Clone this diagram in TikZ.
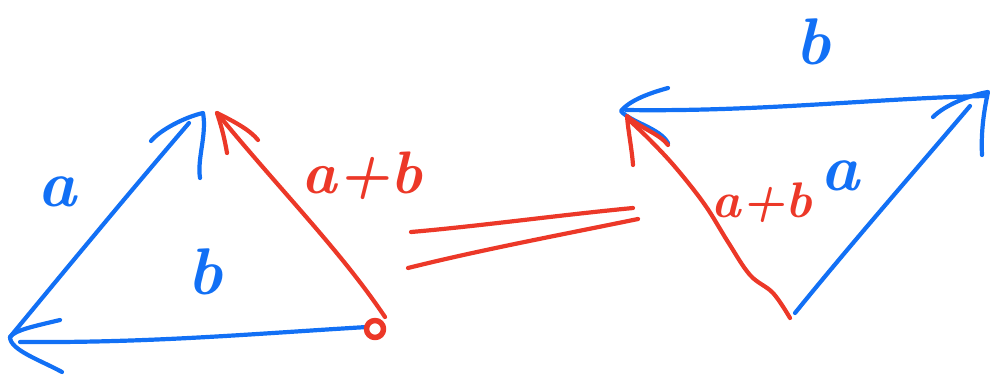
\documentclass[tikz,border=0pt]{standalone}
\usetikzlibrary{calc}
\definecolor{penblue}{RGB}{18,112,245}
\definecolor{penred}{RGB}{236,56,40}
\tikzset{
  bluepen/.style={draw=penblue,line width=4.2pt,line cap=round,line join=round},
  redpen/.style={draw=penred,line width=4.2pt,line cap=round,line join=round},
  bluelabel/.style={text=penblue,font=\fontsize{66}{66}\selectfont\bfseries\itshape,inner sep=0pt},
  redlabel/.style={text=penred,font=\fontsize{60}{60}\selectfont\bfseries\itshape,inner sep=0pt},
}
\begin{document}
\begin{tikzpicture}[x=1pt,y=-1pt]
\useasboundingbox (0,0) rectangle (990,375);
% ---------- left triangle ----------
\coordinate (LA) at (10,337);
\coordinate (LTa) at (203,113);
\coordinate (LTr) at (217,113);
\coordinate (LR) at (380,322);
% a
\draw[bluepen] (LA) .. controls (80,252) and (140,180) .. (189,123);
\draw[bluepen] (151,141) .. controls (160,130) and (185,117) .. (LTa) .. controls (207,135) and (197,158) .. (200,178);
% b
\draw[bluepen] (367,327) .. controls (250,334) and (150,343) .. (20,342);
\draw[bluepen] (60,320) .. controls (35,326) and (15,330) .. (LA) .. controls (10,350) and (40,360) .. (62,372);
% a+b
\draw[redpen] (385,317) .. controls (340,250) and (280,190) .. (LTr);
\draw[redpen] (227,153) .. controls (224,135) and (220,122) .. (LTr) .. controls (235,122) and (250,130) .. (258,140);
\draw[redpen,line width=5.5pt] (375,329) circle (8.5);
% labels
\node[bluelabel] (la) at (57,192) {a};
\node[bluelabel] (lb) at (205,272) {b};
\node[redlabel] (lab) at (362,176) {a+b};
% ---------- equals ----------
\coordinate (E1a) at (411,232);
\coordinate (E1b) at (633,208);
\coordinate (E2a) at (408,268);
\coordinate (E2b) at (638,219);
\draw[redpen] (E1a) .. controls (480,226) and (560,215) .. (E1b);
\draw[redpen] (E2a) .. controls (480,250) and (560,235) .. (E2b);
% ---------- right triangle ----------
\coordinate (RL) at (621,111);
\coordinate (RT) at (988,92);
\coordinate (RB) at (795,313);
% b (top)
\draw[bluepen] (986,96) .. controls (880,98) and (760,112) .. (626,110);
\draw[bluepen] (668,88) .. controls (650,93) and (630,100) .. (RL) .. controls (630,122) and (660,128) .. (668,143);
% a (right)
\draw[bluepen] (RB) .. controls (850,245) and (920,165) .. (970,106);
\draw[bluepen] (933,117) .. controls (945,105) and (970,95) .. (RT) .. controls (983,115) and (981,135) .. (982,155);
% a+b (red, wavy)
\draw[redpen] plot[smooth,tension=0.6] coordinates {(790,318) (773,293) (750,275) (728,242) (705,205) (676,168) (650,140) (628,119)};
\draw[redpen] (633,165) .. controls (632,150) and (628,130) .. (627,116) .. controls (640,128) and (660,134) .. (668,145);
% labels
\node[bluelabel] (rb) at (813,42) {b};
\node[bluelabel] (ra) at (840,176) {a};
\node[redlabel,font=\fontsize{50}{50}\selectfont\bfseries\itshape] (rab) at (762,203) {a+b};
\end{tikzpicture}
\end{document}
